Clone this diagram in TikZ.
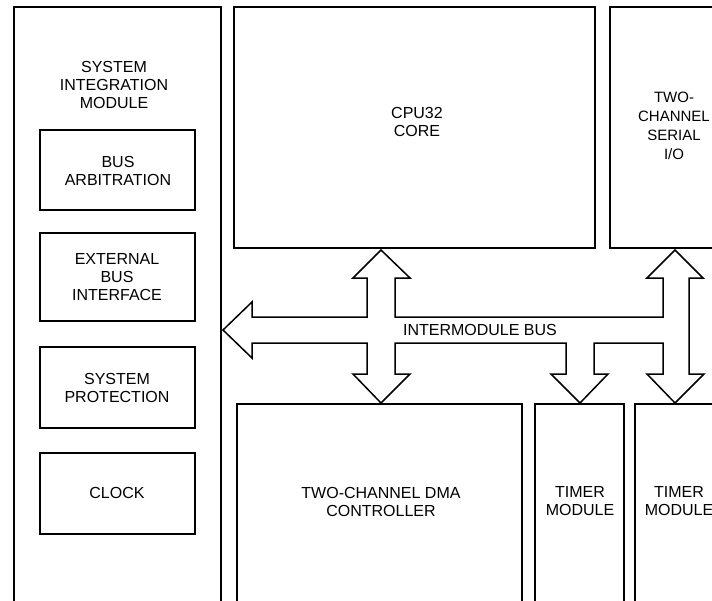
\documentclass[tikz,border=0pt]{standalone}
\usepackage{fontspec}
\setmainfont{Liberation Sans}
\begin{document}
\begin{tikzpicture}[x=1pt,y=-1pt,
  box/.style={draw, line width=1.8pt, inner sep=0pt, outer sep=0pt, anchor=north west},
  lbl/.style={align=center, font=\fontsize{16}{18}\selectfont, inner sep=0pt},
  bus/.style={draw, line width=1.5pt, line join=miter}]
\useasboundingbox (0,0) rectangle (712,600);
\clip (0,0) rectangle (712,600);
% system integration module
\node[box, minimum width=207pt, minimum height=620pt] (sim) at (14,7) {};
\node[box, minimum width=155pt, minimum height=80pt] (arb) at (40,130) {};
\node[box, minimum width=155pt, minimum height=88pt] (ext) at (40,233) {};
\node[box, minimum width=155pt, minimum height=81pt] (prot) at (40,347) {};
\node[box, minimum width=155pt, minimum height=81pt] (clk) at (40,453) {};
% upper modules
\node[box, minimum width=361pt, minimum height=241pt] (cpu) at (234,7) {};
\node[box, minimum width=130pt, minimum height=241pt] (ser) at (610,7) {};
% lower modules
\node[box, minimum width=285pt, minimum height=220pt] (dma) at (237,404) {};
\node[box, minimum width=89pt, minimum height=220pt] (tm1) at (535,404) {};
\node[box, minimum width=88pt, minimum height=220pt] (tm2) at (635,404) {};
% labels
\node[lbl] (simt) at (114,85) {SYSTEM\\INTEGRATION\\MODULE};
\node[lbl] (arbt) at (118,171) {BUS\\ARBITRATION};
\node[lbl] (extt) at (117,277) {EXTERNAL\\BUS\\INTERFACE};
\node[lbl] (prott) at (117,388) {SYSTEM\\PROTECTION};
\node[lbl] (clkt) at (117,493) {CLOCK};
\node[lbl] (cput) at (417,122) {CPU32\\CORE};
\node[lbl, font=\fontsize{15}{19}\selectfont] (sert) at (674,126) {TWO-\\CHANNEL\\SERIAL\\I/O};
\node[lbl] (dmat) at (381,502) {TWO-CHANNEL DMA\\CONTROLLER};
\node[lbl] (tm1t) at (580,501) {TIMER\\MODULE};
\node[lbl] (tm2t) at (679,501) {TIMER\\MODULE};
\node[lbl] (bust) at (480,330) {INTERMODULE BUS};
% intermodule bus outline
\draw[bus] (223,330) -- (252,302) -- (252,317) -- (367,317) -- (367,278) -- (353,278)
  -- (381,250) -- (410,278) -- (395,278) -- (395,317) -- (663,317) -- (663,278)
  -- (647,278) -- (675,250) -- (703,278) -- (689,278) -- (689,374) -- (704,374)
  -- (675,403) -- (647,374) -- (663,374) -- (663,343) -- (594,343) -- (594,374)
  -- (608,374) -- (580,403) -- (551,374) -- (566,374) -- (566,343) -- (395,343)
  -- (395,374) -- (410,374) -- (381,403) -- (353,374) -- (367,374) -- (367,343)
  -- (252,343) -- (252,358) -- cycle;
\end{tikzpicture}
\end{document}
